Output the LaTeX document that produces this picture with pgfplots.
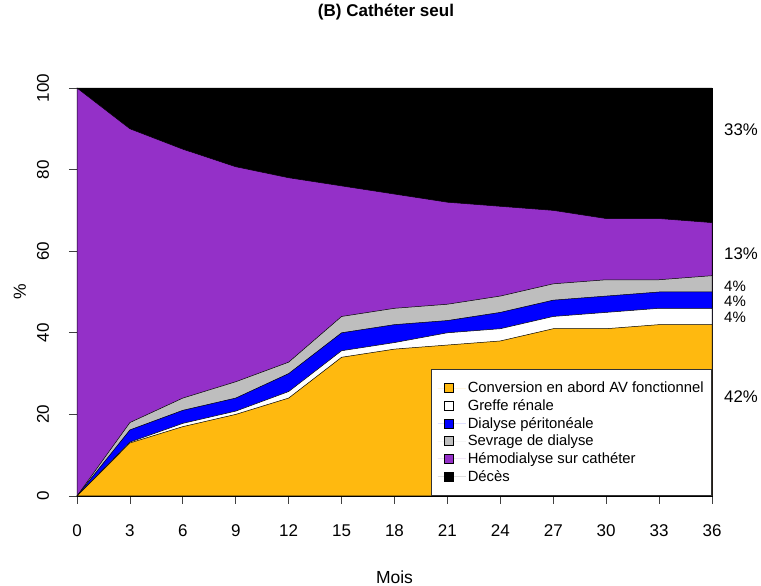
\documentclass[border=0pt]{standalone}
\usepackage{fontspec}
\setmainfont{Liberation Sans}
\usepackage{pgfplots}
\usepackage{pgfplotstable}
\pgfplotsset{compat=1.18}
\definecolor{cAV}{RGB}{255,185,15}
\definecolor{cHD}{RGB}{148,48,200}
\definecolor{cSev}{RGB}{190,190,190}
\definecolor{cDP}{RGB}{0,0,255}
\pgfplotstableread{
x   av   gr    dp   sev   hd   dc
0   0    0     0    0     100  100
3   13   13.2  16.2 18    90   100
6   17   17.8  21   24    85   100
9   20   20.8  24   28    80.7 100
12  24   25.6  30   32.8  78   100
15  34   35.6  40   44    76   100
18  36   37.6  42   46    74   100
21  37   40    43   47    72   100
24  38   41    45   49    71   100
27  41   44    48   52    70   100
30  41   45    49   53    68   100
33  42   46    50   53    68   100
36  42   46    50   54    67   100
}\data
\begin{document}
\begin{tikzpicture}[x=1pt,y=1pt]
\path[use as bounding box] (0,0) rectangle (761,586);
\begin{axis}[
  at={(77pt,90pt)}, anchor=south west, scale only axis,
  width=635pt, height=408pt,
  xmin=0, xmax=36, ymin=0, ymax=100,
  clip=false,
  title={(B) Cathéter seul},
  title style={font=\fontsize{17}{20}\selectfont\bfseries, at={(axis description cs:0.4866,1.1716)}, anchor=center},
  axis x line*=bottom, axis y line*=left,
  axis line style={-, line width=0.7pt, draw=black!75},
  xtick={0,3,...,36}, ytick={0,20,...,100},
  tick align=outside, major tick length=8pt,
  tick style={line width=0.7pt, draw=black!75},
  /pgf/number format/assume math mode=true,
  ticklabel style={font=\fontsize{17}{19}\selectfont},
  xticklabel style={anchor=center, yshift=-27pt},
  yticklabel style={xshift=-26pt, rotate=90, anchor=center},
  xlabel={Mois}, ylabel={\%},
  label style={font=\fontsize{17.5}{19}\selectfont},
  xlabel style={at={(axis description cs:0.5,-0.1985)}, anchor=center},
  ylabel style={at={(axis description cs:-0.0898,0.5)}, anchor=center},
  legend image code/.code={\path[draw=none] (0pt,0pt) -- (28pt,0pt); \draw[#1] (7pt,-4.5pt) rectangle (16pt,4.5pt);},
  legend cell align=left,
  legend style={at={(1,0)}, anchor=south east, draw=black!80, line width=0.7pt,
    font=\fontsize{14.8}{17}\selectfont, row sep=1.3pt,
    inner xsep=6pt, inner ysep=11pt},
]
\addlegendimage{fill=cAV, draw=black, line width=0.6pt}
\addlegendentry{Conversion en abord AV fonctionnel}
\addlegendimage{fill=white, draw=black, line width=0.6pt}
\addlegendentry{Greffe rénale}
\addlegendimage{fill=cDP, draw=black, line width=0.6pt}
\addlegendentry{Dialyse péritonéale}
\addlegendimage{fill=cSev, draw=black, line width=0.6pt}
\addlegendentry{Sevrage de dialyse}
\addlegendimage{fill=cHD, draw=black, line width=0.6pt}
\addlegendentry{Hémodialyse sur cathéter}
\addlegendimage{fill=black, draw=black, line width=0.6pt}
\addlegendentry{Décès}

\addplot[forget plot, fill=black, draw=black, line width=0.5pt] table[x=x, y=dc] {\data} \closedcycle;
\addplot[forget plot, fill=cHD, draw=black, line width=0.5pt] table[x=x, y=hd] {\data} \closedcycle;
\addplot[forget plot, fill=cSev, draw=black, line width=0.5pt] table[x=x, y=sev] {\data} \closedcycle;
\addplot[forget plot, fill=cDP, draw=black, line width=0.5pt] table[x=x, y=dp] {\data} \closedcycle;
\addplot[forget plot, fill=white, draw=black, line width=0.5pt] table[x=x, y=gr] {\data} \closedcycle;
\addplot[forget plot, fill=cAV, draw=black, line width=0.5pt] table[x=x, y=av] {\data} \closedcycle;

\node[anchor=west, font=\fontsize{16.8}{19}\selectfont, inner sep=0pt] at (axis cs:36,89.7) [xshift=12pt] {33\%};
\node[anchor=west, font=\fontsize{16.8}{19}\selectfont, inner sep=0pt] at (axis cs:36,59.5) [xshift=12pt] {13\%};
\node[anchor=west, font=\fontsize{15}{17}\selectfont, inner sep=0pt] at (axis cs:36,51.5) [xshift=12pt] {4\%};
\node[anchor=west, font=\fontsize{15}{17}\selectfont, inner sep=0pt] at (axis cs:36,47.6) [xshift=12pt] {4\%};
\node[anchor=west, font=\fontsize{15}{17}\selectfont, inner sep=0pt] at (axis cs:36,43.9) [xshift=12pt] {4\%};
\node[anchor=west, font=\fontsize{16.8}{19}\selectfont, inner sep=0pt] at (axis cs:36,24.3) [xshift=12pt] {42\%};
\end{axis}
\end{tikzpicture}
\end{document}
